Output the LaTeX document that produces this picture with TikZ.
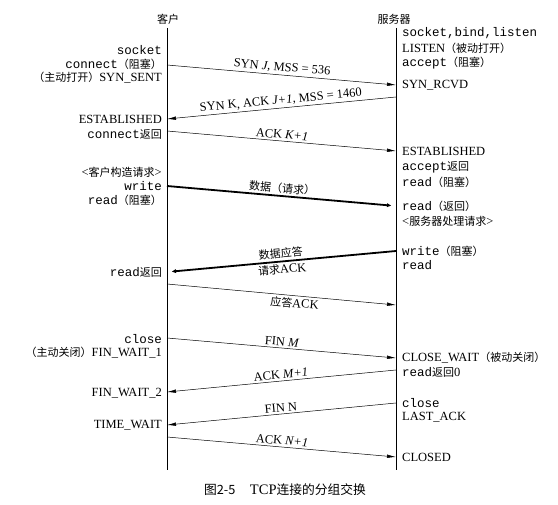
\documentclass[tikz,border=0pt]{standalone}
\usepackage{fontspec}
\setmainfont{Liberation Serif}
\setmonofont{Liberation Mono}
\newfontfamily\cjk[Scale=0.88]{Noto Sans CJK SC}
\usetikzlibrary{arrows.meta}
\newcommand{\zh}[1]{{\cjk #1}}

\begin{document}
\begin{tikzpicture}[x=1pt, y=-1pt, font=\fontsize{12.5}{14}\selectfont,
    lstate/.style={anchor=east, inner sep=0pt},
    rstate/.style={anchor=west, inner sep=0pt},
    msg/.style={-{Latex[length=9pt,width=3.5pt]}, line width=0.5pt},
    bigmsg/.style={msg, line width=1.8pt},
    tag/.style={sloped, inner sep=2pt}]

    \useasboundingbox (0,0) rectangle (558,505);

    \node[inner sep=0pt] (client) at (168, 19) {\zh{客户}};
    \node[inner sep=0pt] (server) at (394, 19) {\zh{服务器}};

    \coordinate (ctop) at (167, 28);
    \coordinate (cbot) at (167, 470);
    \coordinate (stop) at (396, 28);
    \coordinate (sbot) at (396, 470);
    \draw (ctop) -- (cbot);
    \draw (stop) -- (sbot);

    \coordinate (c1) at (167, 65);
    \coordinate (s1) at (396, 85);
    \coordinate (s2) at (396, 97);
    \coordinate (c2) at (167, 119);
    \coordinate (c3) at (167, 131);
    \coordinate (s3) at (396, 151);
    \coordinate (c4) at (167, 186);
    \coordinate (s4) at (396, 206);
    \coordinate (s5) at (396, 251);
    \coordinate (c5) at (167, 272);
    \coordinate (c6) at (167, 284);
    \coordinate (s6) at (396, 305);
    \coordinate (c7) at (167, 338);
    \coordinate (s7) at (396, 358);
    \coordinate (s8) at (396, 370);
    \coordinate (c8) at (167, 392);
    \coordinate (s9) at (396, 403);
    \coordinate (c9) at (167, 425);
    \coordinate (c10) at (167, 437);
    \coordinate (s10) at (396, 457);

    \node[lstate] (csocket) at (162, 50) {\texttt{socket}};
    \node[lstate] (cconnect) at (162, 64) {\texttt{connect}\zh{（阻塞）}};
    \node[lstate] (csynsent) at (162, 78) {\zh{（主动打开）}SYN\_SENT};
    \node[lstate] (cestab) at (162, 119) {ESTABLISHED};
    \node[lstate] (cconret) at (162, 134) {\texttt{connect}\zh{返回}};
    \node[lstate] (cbuild) at (162, 172) {<\zh{客户构造请求}>};
    \node[lstate] (cwrite) at (162, 186) {\texttt{write}};
    \node[lstate] (cread) at (162, 200) {\texttt{read}\zh{（阻塞）}};
    \node[lstate] (creadret) at (162, 272) {\texttt{read}\zh{返回}};
    \node[lstate] (cclose) at (162, 339) {\texttt{close}};
    \node[lstate] (cfinw1) at (162, 353) {\zh{（主动关闭）}FIN\_WAIT\_1};
    \node[lstate] (cfinw2) at (162, 393) {FIN\_WAIT\_2};
    \node[lstate] (ctimew) at (162, 425) {TIME\_WAIT};

    \node[rstate] (ssocket) at (402, 33) {\texttt{socket,bind,listen}};
    \node[rstate] (slisten) at (402, 48) {LISTEN\zh{（被动打开）}};
    \node[rstate] (saccept) at (402, 63) {\texttt{accept}\zh{（阻塞）}};
    \node[rstate] (ssynrcvd) at (402, 85) {SYN\_RCVD};
    \node[rstate] (sestab) at (402, 151) {ESTABLISHED};
    \node[rstate] (saccret) at (402, 167) {\texttt{accept}\zh{返回}};
    \node[rstate] (sread) at (402, 182) {\texttt{read}\zh{（阻塞）}};
    \node[rstate] (sreadret) at (402, 206) {\texttt{read}\zh{（返回）}};
    \node[rstate] (swork) at (402, 221) {<\zh{服务器处理请求}>};
    \node[rstate] (swrite) at (402, 251) {\texttt{write}\zh{（阻塞）}};
    \node[rstate] (sread2) at (402, 265) {\texttt{read}};
    \node[rstate] (sclosew) at (402, 358) {CLOSE\_WAIT\zh{（被动关闭）}};
    \node[rstate] (sread0) at (402, 372) {\texttt{read}\zh{返回}0};
    \node[rstate] (sclose) at (402, 403) {\texttt{close}};
    \node[rstate] (slastack) at (402, 417) {LAST\_ACK};
    \node[rstate] (sclosed) at (402, 457) {CLOSED};

    \draw[msg] (c1) -- node[tag, above] (l1) {SYN \textit{J}, MSS = 536} (s1);
    \draw[msg] (s2) -- node[tag, above] (l2) {SYN K, ACK \textit{J+1}, MSS = 1460} (c2);
    \draw[msg] (c3) -- node[tag, above] (l3) {ACK \textit{K+1}} (s3);
    \draw[bigmsg] (c4) -- node[tag, above] (l4) {\zh{数据（请求）}} (s4);
    \draw[bigmsg] (s5) -- node[tag, above] (l5) {\zh{数据应答}} node[tag, below] (l5b) {\zh{请求}ACK} (c5);
    \draw[msg] (c6) -- node[tag, below, pos=0.56] (l6) {\zh{应答}ACK} (s6);
    \draw[msg] (c7) -- node[tag, above] (l7) {FIN \textit{M}} (s7);
    \draw[msg] (s8) -- node[tag, above] (l8) {ACK \textit{M+1}} (c8);
    \draw[msg] (s9) -- node[tag, above] (l9) {FIN N} (c9);
    \draw[msg] (c10) -- node[tag, above] (l10) {ACK \textit{N+1}} (s10);

    \node[font=\fontsize{14.5}{16}\selectfont] (caption) at (285, 490) {\zh{图2-5}\hspace{1em}TCP\zh{连接的分组交换}};

\end{tikzpicture}
\end{document}
